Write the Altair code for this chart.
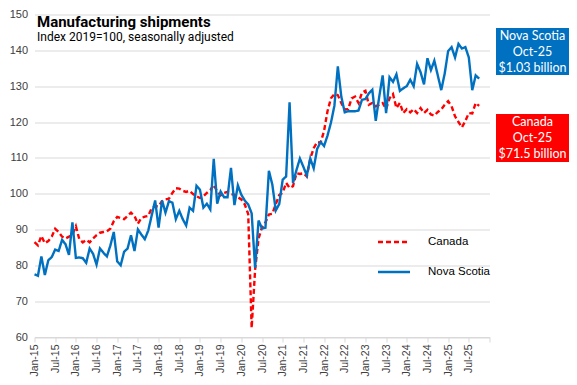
import json
import altair as alt
import pandas as pd

# Monthly index values, Jan-15 .. Oct-25 (2019=100)
canada = [
    86.5, 85.6, 88.2, 86.2, 86.8, 88.0, 90.2, 89.3, 88.0, 87.5, 88.0, 88.6,
    90.9, 87.3, 86.4, 87.1, 86.4, 87.5, 88.4, 89.1, 89.3, 89.5, 90.2, 92.3,
    93.5, 93.2, 92.9, 93.8, 94.7, 93.8, 91.6, 93.2, 93.6, 93.8, 96.0, 96.5,
    96.5, 97.9, 98.4, 98.6, 100.2, 101.5, 101.4, 100.8, 100.5, 100.8, 99.9, 99.3,
    98.8, 99.3, 100.2, 101.0, 102.5, 100.6, 99.5, 100.2, 100.5, 99.9, 99.7, 99.0,
    98.4, 97.0, 94.3, 62.5, 78.8, 87.5, 90.6, 92.0, 94.2, 94.4, 97.1, 99.6,
    100.3, 103.0, 101.6, 102.1, 105.7, 105.5, 105.7, 104.8, 109.8, 112.7, 114.4, 114.2,
    117.5, 123.0, 126.6, 127.8, 127.5, 125.3, 123.5, 123.6, 126.6, 127.1, 125.3, 128.2,
    128.7, 124.8, 125.3, 124.4, 124.8, 125.3, 123.6, 126.6, 127.8, 123.9, 125.3, 122.5,
    123.6, 122.7, 123.6, 122.5, 123.9, 122.5, 123.4, 122.1, 121.8, 122.8, 123.5, 124.8,
    125.8, 124.4, 121.6, 120.0, 118.5, 120.3, 122.5, 122.4, 125.3, 124.5,
]
nova_scotia = [
    77.5, 77.1, 82.5, 77.3, 81.4, 82.3, 84.4, 84.0, 87.1, 85.9, 82.9, 92.0,
    82.1, 82.2, 82.0, 80.7, 84.7, 83.2, 80.2, 84.7, 83.5, 82.5, 85.5, 89.3,
    81.1, 80.0, 83.8, 84.7, 88.4, 84.0, 90.0, 88.6, 87.3, 89.7, 93.9, 98.1,
    90.5, 98.1, 94.7, 97.9, 97.5, 92.9, 95.2, 92.9, 91.1, 96.1, 95.2, 102.2,
    101.1, 96.1, 97.2, 95.6, 109.7, 97.2, 100.6, 99.0, 99.0, 107.2, 96.8, 102.3,
    99.7, 98.1, 97.0, 94.5, 79.3, 92.5, 90.3, 90.5, 106.4, 102.5, 95.3, 97.1,
    103.9, 104.8, 125.5, 103.0, 106.6, 109.8, 107.5, 105.1, 109.8, 107.1, 112.5, 114.4,
    113.3, 116.2, 119.8, 124.5, 135.5, 127.1, 122.7, 123.0, 123.0, 123.0, 123.2, 126.2,
    126.4, 128.0, 129.0, 120.3, 127.0, 133.0, 122.5, 132.5, 131.2, 133.3, 128.7, 129.4,
    130.0, 131.8, 130.0, 136.2, 133.9, 130.5, 137.8, 134.5, 137.1, 133.0, 128.9, 133.5,
    139.8, 140.9, 138.0, 141.8, 140.5, 140.9, 138.0, 128.9, 133.0, 132.1,
]
series_names = ["Canada", "Nova Scotia"]
series_colors = ["#FF0000", "#0070C0"]
tick_labels = [
    "Jan-15", "Jul-15", "Jan-16", "Jul-16", "Jan-17", "Jul-17", "Jan-18", "Jul-18",
    "Jan-19", "Jul-19", "Jan-20", "Jul-20", "Jan-21", "Jul-21", "Jan-22", "Jul-22",
    "Jan-23", "Jul-23", "Jan-24", "Jul-24", "Jan-25", "Jul-25", "",
]
y_ticks = [60, 70, 80, 90, 100, 110, 120, 130, 140, 150]
title_text = "Manufacturing shipments"
subtitle_text = "Index 2019=100, seasonally adjusted"
ns_box = ["Nova Scotia", "Oct-25", "$1.03 billion"]
ca_box = ["Canada", "Oct-25", "$71.5 billion"]

n = len(canada)
df = pd.DataFrame({
    "m": list(range(n)) * 2,
    "v": canada + nova_scotia,
    "series": [series_names[0]] * n + [series_names[1]] * n,
})

label_expr = json.dumps(tick_labels).replace('"', "'") + "[round(datum.value/6)]"

W, H = 455, 322.5
AX = "Liberation Sans"

lines = alt.Chart(df).mark_line(strokeWidth=2.4).encode(
    x=alt.X("m:Q",
            scale=alt.Scale(domain=[0, 132], nice=False, zero=False),
            axis=alt.Axis(values=list(range(0, 133, 6)), labelExpr=label_expr,
                          labelAngle=270, labelAlign="right", labelBaseline="middle",
                          grid=False, title=None, tickSize=5, tickColor="#d9d9d9",
                          domainColor="#d9d9d9", labelFont=AX, labelFontSize=10.5,
                          labelColor="#404040", labelPadding=2, labelOverlap=False)),
    y=alt.Y("v:Q",
            scale=alt.Scale(domain=[60, 150], nice=False, zero=False),
            axis=alt.Axis(values=y_ticks, grid=True, gridColor="#d9d9d9", domain=False,
                          ticks=False, labelPadding=7, labelFont=AX, labelFontSize=11,
                          labelColor="#404040", title=None)),
    color=alt.Color("series:N", scale=alt.Scale(domain=series_names, range=series_colors),
                    legend=None),
    strokeDash=alt.StrokeDash("series:N",
                              scale=alt.Scale(domain=series_names, range=[[5, 3], [1, 0]]),
                              legend=None),
)

base = alt.Chart(pd.DataFrame({"a": [0]}))

title = base.mark_text(align="left", baseline="middle", font="Roboto", fontSize=15,
                       fontWeight="bold", color="#000000").encode(
    x=alt.value(2.5), y=alt.value(7.2), text=alt.value(title_text))
subtitle = base.mark_text(align="left", baseline="middle", font="Roboto", fontSize=12,
                          color="#000000").encode(
    x=alt.value(2.5), y=alt.value(22.5), text=alt.value(subtitle_text))

leg_ca_line = base.mark_rule(color=series_colors[0], strokeWidth=2.5, strokeDash=[5, 3]).encode(
    x=alt.value(343.5), x2=alt.value(375.5), y=alt.value(227.5))
leg_ns_line = base.mark_rule(color=series_colors[1], strokeWidth=2.5).encode(
    x=alt.value(343.5), x2=alt.value(375.5), y=alt.value(257.5))
leg_ca_txt = base.mark_text(align="left", baseline="middle", font=AX, fontSize=11.5,
                            color="#000000").encode(
    x=alt.value(393.5), y=alt.value(227.5), text=alt.value(series_names[0]))
leg_ns_txt = base.mark_text(align="left", baseline="middle", font=AX, fontSize=11.5,
                            color="#000000").encode(
    x=alt.value(393.5), y=alt.value(257.5), text=alt.value(series_names[1]))

BX0, BX1 = 461.5, 534.5
ns_rect = base.mark_rect(color=series_colors[1]).encode(
    x=alt.value(BX0), x2=alt.value(BX1), y=alt.value(13.5), y2=alt.value(60.5))
ca_rect = base.mark_rect(color=series_colors[0]).encode(
    x=alt.value(BX0), x2=alt.value(BX1), y=alt.value(99.5), y2=alt.value(147.5))
ns_txt = base.mark_text(align="center", baseline="middle", font="Lato", fontSize=12.5,
                        lineHeight=16, color="white").encode(
    x=alt.value((BX0 + BX1) / 2), y=alt.value(21.5), text=alt.value(ns_box))
ca_txt = base.mark_text(align="center", baseline="middle", font="Lato", fontSize=12.5,
                        lineHeight=16, color="white").encode(
    x=alt.value((BX0 + BX1) / 2), y=alt.value(107), text=alt.value(ca_box))

chart = alt.layer(
    lines, title, subtitle, leg_ca_line, leg_ns_line, leg_ca_txt, leg_ns_txt,
    ns_rect, ca_rect, ns_txt, ca_txt,
).properties(
    width=W, height=H,
    autosize=alt.AutoSizeParams(type="none"),
    padding={"left": 26.5, "top": 6.5, "right": 79.5, "bottom": 40},
    background="white",
).configure_view(stroke=None)

chart.save("out.html", embed_options={"renderer": "svg", "actions": False})
